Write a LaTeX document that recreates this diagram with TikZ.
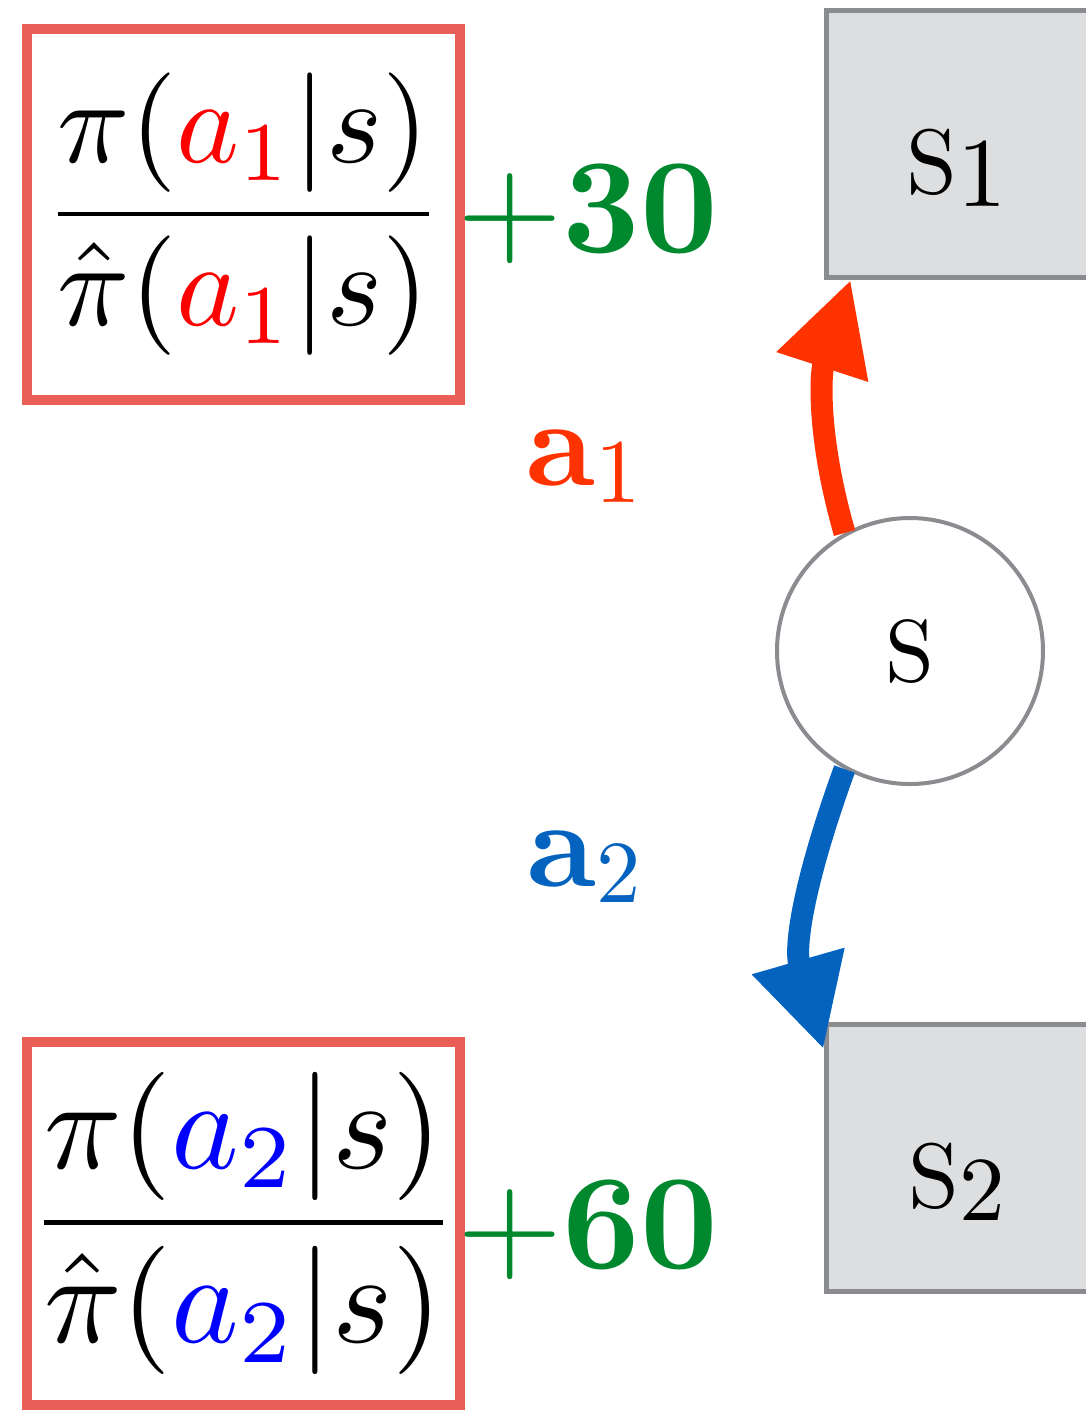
\documentclass[tikz,border=0pt]{standalone}
\usetikzlibrary{arrows.meta,positioning}
\definecolor{BoxRed}{RGB}{234,94,88}
\definecolor{StateGray}{RGB}{138,140,144}
\definecolor{StateFill}{RGB}{221,222,224}
\definecolor{ArrowRed}{RGB}{255,51,0}
\definecolor{ArrowBlue}{RGB}{3,99,190}
\definecolor{RewardGreen}{RGB}{0,136,46}

\begin{document}
\begin{tikzpicture}[
    ratiobox/.style={draw=BoxRed, line width=0.1cm, minimum width=4.33cm, inner sep=0pt},
    statebox/.style={draw=StateGray, fill=StateFill, line width=0.05cm, minimum width=2.62cm, minimum height=2.67cm},
    reward/.style={text=RewardGreen, inner sep=0pt},
    action/.style={-{Triangle[length=0.92cm,width=0.9cm]}, line width=0.22cm}
]
    % Page size as in the original
    \useasboundingbox (0,0) rectangle (10.86,-14.13);

    % Current state
    \node[circle, draw=StateGray, line width=0.04cm, fill=white, minimum size=2.66cm]
        (s) at (9.10,-6.51) {\scalebox{2.5}{S}};

    % Next states (label sits a bit low in the box)
    \node[statebox] (s1) at (9.57,-1.435)
        {\raisebox{-0.24cm}[\height][\depth]{\scalebox{2.6}{S\raisebox{-1.4pt}{\scalebox{1.08}{1}}}}};
    \node[statebox] (s2) at (9.57,-11.575)
        {\raisebox{-0.24cm}[\height][\depth]{\scalebox{2.6}{S\raisebox{-1.4pt}{\scalebox{1.0}{2}}}}};

    % Actions
    \draw[action, ArrowRed] (s.119) to[out=106, in=-108] (s1.232);
    \draw[action, ArrowBlue] (s.241) to[out=250, in=106] (s2.141);

    \node[text=ArrowRed, inner sep=0pt] (a1) at (5.835,-4.66)
        {\scalebox{3.5}{\bfseries a\raisebox{-1.4pt}{\mdseries\scalebox{0.74}{1}}}};
    \node[text=ArrowBlue, inner sep=0pt] (a2) at (5.845,-8.67)
        {\scalebox{3.5}{\bfseries a\raisebox{-1.3pt}{\mdseries\scalebox{0.72}{2}}}};

    % Importance ratios
    \node[ratiobox, minimum height=3.71cm] (frac1) at (2.435,-2.145)
        {\scalebox{3.4}{$\displaystyle\frac{\pi(\textcolor{red}{a_1}|s)}{\hat{\pi}(\textcolor{red}{a_1}|s)}$}};
    \node[ratiobox, minimum height=3.63cm] (frac2) at (2.435,-12.235)
        {\scalebox{3.65}{$\displaystyle\frac{\pi(\textcolor{blue}{a_2}|s)}{\hat{\pi}(\textcolor{blue}{a_2}|s)}$}};

    % Rewards
    \node[reward, right=-0.08cm of frac1] (r1) {\scalebox{3.85}{$+\mathbf{30}$}};
    \node[reward, right=-0.08cm of frac2, yshift=-0.07cm] (r2) {\scalebox{3.85}{$+\mathbf{60}$}};
\end{tikzpicture}
\end{document}
